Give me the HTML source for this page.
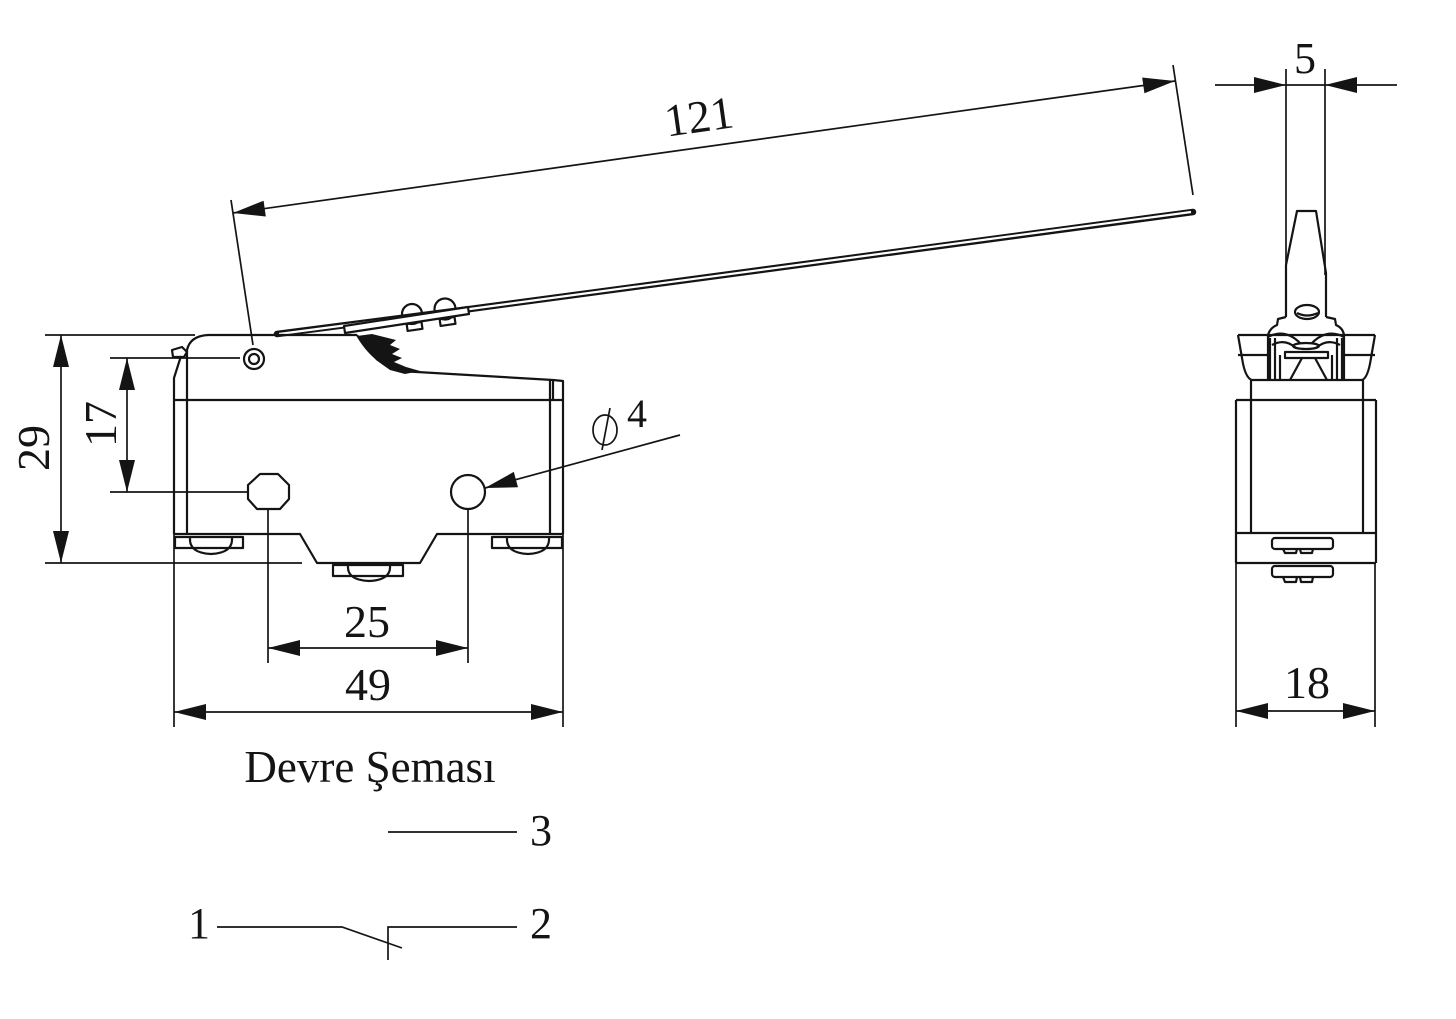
<!DOCTYPE html>
<html>
<head>
<meta charset="utf-8">
<style>
html,body{margin:0;padding:0;background:#fff;}
svg{display:block;}
text{font-family:"Liberation Serif","DejaVu Serif",serif;fill:#141414;}
</style>
</head>
<body>
<svg width="1456" height="1019" viewBox="0 0 1456 1019" xmlns="http://www.w3.org/2000/svg">
<rect width="1456" height="1019" fill="#fff"/>

<!-- ============ FRONT VIEW ============ -->
<g fill="none" stroke="#141414" stroke-width="2.2" stroke-linejoin="round">
  <!-- bolts (behind plate) -->
  <circle cx="412" cy="314" r="10" fill="#fff"/>
  <circle cx="445" cy="309" r="10.5" fill="#fff"/>
  <!-- lever (double line) -->
  <path d="M277,334 L470,309 L1193,212" stroke-width="6.5" stroke-linecap="round"/>
  <path d="M279,334 L470,309 L1191,212" stroke="#fff" stroke-width="2.2"/>
  <!-- housing top -->
  <path d="M187,534 L187,350 Q190,336 208,335 L357,335"/>
  <path d="M174,534 L174,378 L181,356"/>
  <path d="M172,350 L182,347 L187,352 L184,357 L173,357 Z"/>
  <path d="M357,335 Q374,364 400,371 L553,380 L553,400"/>
  <path d="M550,534 L550,380"/>
  <path d="M563,534 L563,381 L553,380"/>
  <!-- body top line -->
  <path d="M174,400 L563,400"/>
  <!-- bottom -->
  <path d="M174,534 L300,534 L317,563 L420,563 L437,534 L563,534"/>
  <!-- pivot -->
  <circle cx="254" cy="359" r="10"/>
  <circle cx="254" cy="359" r="5"/>
  <!-- holes -->
  <polygon points="260,474 278,474 289,485 289,499 280,509 257,509 248,499 248,485"/>
  <circle cx="468" cy="492" r="17"/>
  <!-- mounting plate -->
  <polygon points="345,333 344,326 468,307 469,314" fill="#fff"/>
  <rect x="407" y="323" width="15" height="7" transform="rotate(-8 414 326)"/>
  <rect x="440" y="318" width="15" height="7" transform="rotate(-8 447 321)"/>
  <!-- screws -->
  <rect x="175" y="537" width="68" height="11"/>
  <path d="M190,538 Q189,553 211,554 Q233,553 232,538"/>
  <rect x="492" y="537" width="70" height="11"/>
  <path d="M507,538 Q506,553 528,554 Q550,553 549,538"/>
  <rect x="333" y="565" width="70" height="11"/>
  <path d="M348,566 Q347,580 369,581 Q391,580 390,566"/>
</g>
<!-- spring -->
<polygon fill="#141414" points="357,336 372,334 396,340 390,345 400,349 392,354 402,358 394,362 406,367 420,371 405,374 390,370 376,360 366,347"/>

<!-- dimension lines front -->
<g fill="none" stroke="#141414" stroke-width="1.7">
  <!-- 121 -->
  <line x1="233" y1="213" x2="1175" y2="81"/>
  <line x1="231" y1="200" x2="253" y2="345"/>
  <line x1="1173" y1="65" x2="1193" y2="195"/>
  <!-- 29 -->
  <line x1="45" y1="335" x2="195" y2="335"/>
  <line x1="45" y1="563" x2="302" y2="563"/>
  <line x1="61" y1="335" x2="61" y2="563"/>
  <!-- 17 -->
  <line x1="110" y1="358" x2="240" y2="358"/>
  <line x1="110" y1="492" x2="248" y2="492"/>
  <line x1="127" y1="358" x2="127" y2="492"/>
  <!-- 25 -->
  <line x1="268" y1="509" x2="268" y2="663"/>
  <line x1="468" y1="509" x2="468" y2="663"/>
  <line x1="268" y1="648" x2="468" y2="648"/>
  <!-- 49 -->
  <line x1="174" y1="534" x2="174" y2="727"/>
  <line x1="563" y1="534" x2="563" y2="727"/>
  <line x1="174" y1="712" x2="563" y2="712"/>
  <!-- phi4 leader -->
  <line x1="485" y1="488" x2="680" y2="435"/>
  <ellipse cx="605" cy="430" rx="12" ry="15"/>
  <line x1="602" y1="450" x2="610" y2="408"/>
</g>
<g fill="#141414">
  <polygon points="233,213 265.8,216.5 263.6,200.7"/>
  <polygon points="1175,81 1144.4,93.3 1142.2,77.5"/>
  <polygon points="61,335 53,367 69,367"/>
  <polygon points="61,563 53,531 69,531"/>
  <polygon points="127,358 119,390 135,390"/>
  <polygon points="127,492 119,460 135,460"/>
  <polygon points="268,648 300,640 300,656"/>
  <polygon points="468,648 436,640 436,656"/>
  <polygon points="174,712 206,704 206,720"/>
  <polygon points="563,712 531,704 531,720"/>
  <polygon points="485,488 518,487.3 513.8,471.9"/>
</g>

<!-- front labels -->
<text transform="translate(699,117) rotate(-8)" y="15" text-anchor="middle" font-size="46">121</text>
<text transform="translate(34,448) rotate(-90)" y="15" text-anchor="middle" font-size="46">29</text>
<text transform="translate(101,424) rotate(-90)" y="15" text-anchor="middle" font-size="46">17</text>
<text x="367" y="637" text-anchor="middle" font-size="46">25</text>
<text x="368" y="700" text-anchor="middle" font-size="46">49</text>
<text x="627" y="427" font-size="40">4</text>
<text x="370" y="782" text-anchor="middle" font-size="45">Devre Şeması</text>

<!-- ============ RIGHT VIEW ============ -->
<g fill="none" stroke="#141414" stroke-width="2.2" stroke-linejoin="round">
  <!-- tongue -->
  <path d="M1286,317 L1286,265 L1297,211 L1316,211 L1326,273 L1326,317"/>
  <ellipse cx="1307" cy="312" rx="12" ry="7"/>
  <path d="M1297,313 Q1307,318 1318,313"/>
  <!-- shoulders -->
  <path d="M1286,317 L1278,319 L1277,325 Q1270,328 1268,335 L1268,380"/>
  <path d="M1326,317 L1335,319 L1336,325 Q1343,328 1344,335 L1344,380"/>
  <path d="M1270,338 L1270,380 M1275,338 L1275,380 M1337,338 L1337,380 M1342,338 L1342,380"/>
  <path d="M1268,337 Q1285,328 1300,343 M1344,337 Q1327,328 1312,343"/>
  <path d="M1272,345 Q1285,338 1296,348 M1340,345 Q1327,338 1316,348"/>
  <ellipse cx="1306" cy="346" rx="13" ry="3"/>
  <rect x="1285" y="352" width="43" height="6"/>
  <path d="M1290,380 L1302,358 M1315,358 L1327,380"/>
  <path d="M1280,355 L1280,380 M1332,355 L1332,380"/>
  <!-- cap -->
  <path d="M1238,335 L1375,335"/>
  <path d="M1238,335 L1242,358 Q1245,378 1252,380"/>
  <path d="M1375,335 L1371,358 Q1368,378 1362,380"/>
  <path d="M1238,355 L1268,355 M1344,355 L1375,355"/>
  <path d="M1252,380 L1362,380"/>
  <!-- body -->
  <path d="M1251,380 L1251,533 M1363,380 L1363,533"/>
  <path d="M1236,400 L1376,400"/>
  <path d="M1236,400 L1236,563 M1376,400 L1376,563"/>
  <path d="M1236,533 L1376,533"/>
  <path d="M1236,563 L1376,563"/>
  <!-- terminals -->
  <rect x="1272" y="538" width="61" height="11" rx="3"/>
  <path d="M1283,549 L1285,553 L1296,553 L1297,549 M1300,549 L1301,553 L1312,553 L1313,549"/>
  <rect x="1272" y="566" width="61" height="11" rx="3"/>
  <path d="M1283,577 L1285,582 L1296,582 L1297,577 M1300,577 L1301,582 L1312,582 L1313,577"/>
</g>

<g fill="none" stroke="#141414" stroke-width="1.7">
  <!-- 5 -->
  <line x1="1286" y1="69" x2="1286" y2="265"/>
  <line x1="1325" y1="69" x2="1325" y2="275"/>
  <line x1="1215" y1="85" x2="1397" y2="85"/>
  <!-- 18 -->
  <line x1="1236" y1="563" x2="1236" y2="727"/>
  <line x1="1375" y1="563" x2="1375" y2="727"/>
  <line x1="1236" y1="711" x2="1375" y2="711"/>
</g>
<g fill="#141414">
  <polygon points="1286,85 1254,77 1254,93"/>
  <polygon points="1325,85 1357,77 1357,93"/>
  <polygon points="1236,711 1268,703 1268,719"/>
  <polygon points="1375,711 1343,703 1343,719"/>
</g>
<text x="1305" y="73" text-anchor="middle" font-size="44">5</text>
<text x="1307" y="698" text-anchor="middle" font-size="46">18</text>

<!-- ============ CIRCUIT ============ -->
<g fill="none" stroke="#141414" stroke-width="1.7">
  <line x1="388" y1="832" x2="517" y2="832"/>
  <path d="M217,927 L342,927 L402,948"/>
  <path d="M388,960 L388,927 L517,927"/>
</g>
<text x="530" y="845" font-size="44">3</text>
<text x="530" y="938" font-size="44">2</text>
<text x="188" y="938" font-size="44">1</text>
</svg>
</body>
</html>
